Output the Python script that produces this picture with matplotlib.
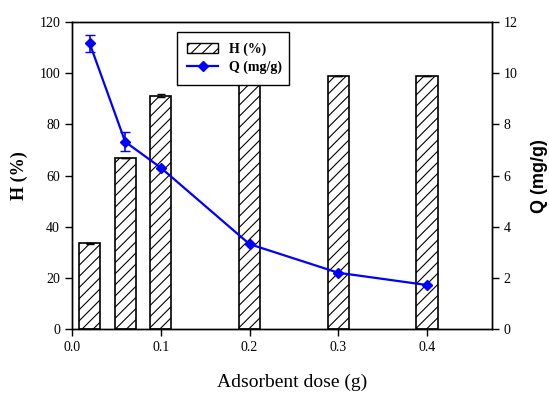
import matplotlib
matplotlib.use("Agg")
import matplotlib.pyplot as plt
from matplotlib.patches import Patch
from matplotlib.lines import Line2D

dose = [0.02, 0.06, 0.1, 0.2, 0.3, 0.4]
H_pct = [33.5, 66.7, 91.2, 98.5, 98.9, 98.9]
H_err = [0.3, 0.0, 0.6, 0.0, 0.0, 0.0]
Q_mg = [11.17, 7.32, 6.31, 3.32, 2.20, 1.72]
Q_err = [0.32, 0.37, 0.0, 0.0, 0.0, 0.0]
x_ticks = [0.0, 0.1, 0.2, 0.3, 0.4]
x_ticklabels = ["0.0", "0.1", "0.2", "0.3", "0.4"]

serif = ["Liberation Serif", "DejaVu Serif"]
sans = ["Liberation Sans", "DejaVu Sans"]
plt.rcParams["hatch.linewidth"] = 0.8

fig = plt.figure(figsize=(5.49, 3.95), dpi=100)
ax1 = fig.add_axes([0.131, 0.167, 0.765, 0.777])
ax2 = ax1.twinx()

ax1.bar(dose, H_pct, width=0.024, facecolor="white", edgecolor="black",
        linewidth=1.2, hatch="///", zorder=2)
ax1.errorbar(dose, H_pct, yerr=H_err, fmt="none", ecolor="black",
             elinewidth=1, capsize=3, zorder=3)

ax2.errorbar(dose, Q_mg, yerr=Q_err, color="#0000ff", linewidth=1.6,
             marker="D", markersize=5.5, capsize=3.5, elinewidth=1.2, zorder=3)

ax1.set_xlim(0, 0.473)
ax1.set_ylim(0, 120)
ax2.set_ylim(0, 12)
ax1.set_xticks(x_ticks)
ax1.set_xticklabels(x_ticklabels)
ax1.set_yticks(range(0, 121, 20))
ax2.set_yticks(range(0, 13, 2))

for ax in (ax1, ax2):
    ax.tick_params(direction="out", length=5, width=1, labelsize=10)
    for lab in ax.get_xticklabels() + ax.get_yticklabels():
        lab.set_family(serif)
    for s in ax.spines.values():
        s.set_linewidth(1)

ax1.set_xlabel("Adsorbent dose (g)", family=serif, fontsize=14)
ax1.xaxis.set_label_coords((292 - 72) / 420, -0.145)
ax1.set_ylabel("H (%)", family=serif, fontsize=13, fontweight="bold", labelpad=8)
ax2.set_ylabel("Q (mg/g)", family=sans, fontsize=13, fontweight="bold",
               rotation=90)
ax2.yaxis.set_label_coords((531 - 72) / 420, 0.5)

handles = [Patch(facecolor="white", edgecolor="black", hatch="///", linewidth=1),
           Line2D([], [], color="#0000ff", marker="D", markersize=5, linewidth=1.6)]
leg = ax2.legend(handles, ["H (%)", "Q (mg/g)"], loc="upper left",
                 bbox_to_anchor=(177 / 549, 1 - 88 / 395, 112 / 549, 56 / 395),
                 bbox_transform=fig.transFigure, mode="expand",
                 fancybox=False, framealpha=1, edgecolor="black",
                 prop={"family": serif, "weight": "bold", "size": 10},
                 borderaxespad=0, handlelength=2.2, labelspacing=0.35,
                 borderpad=0.75)
leg.get_frame().set_linewidth(1)
leg.set_zorder(10)

fig.savefig("out.png", dpi=100)
